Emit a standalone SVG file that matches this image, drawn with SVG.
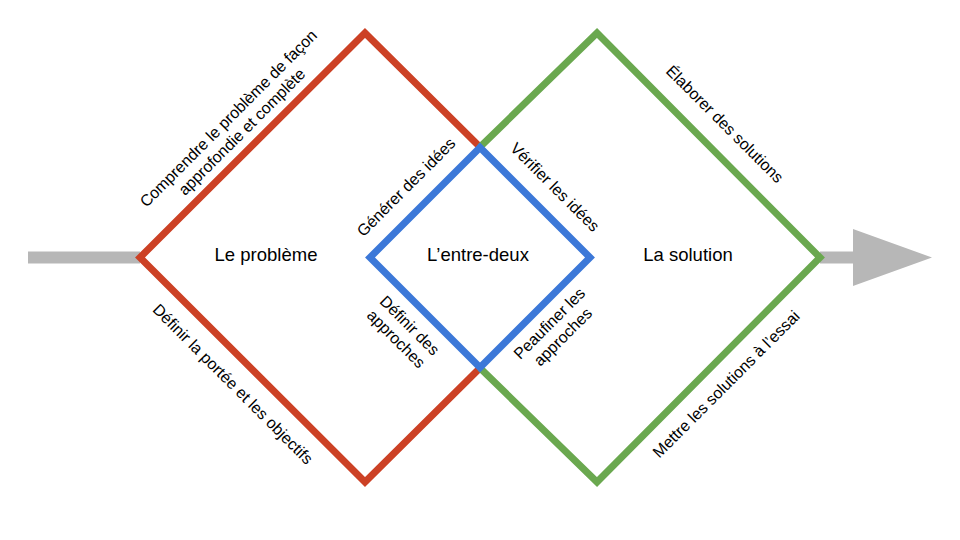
<svg xmlns="http://www.w3.org/2000/svg" width="960" height="540" viewBox="0 0 960 540">
<style>
.t{font-family:"Liberation Sans",Arial,sans-serif;fill:#000}
.lbl{font-size:16px;text-anchor:middle}
.big{font-size:18.5px;text-anchor:middle}
.edge{fill:none;stroke-width:7;stroke-linejoin:miter;stroke-linecap:butt}
</style>
<rect width="960" height="540" fill="#fff"/>
<g id="connectors">
<rect x="28" y="251.5" width="112" height="12" fill="#b7b7b7"/>
<polygon points="820,251.5 853,251.5 853,229 932,257.5 853,286 853,263.5 820,263.5" fill="#b7b7b7"/>
</g>
<g id="problem">
<polyline class="edge" stroke="#cc4125" points="480,147 365,33 140,257.5 365,482 480,368"/>
<text class="t big" x="266" y="261">Le problème</text>
<g transform="translate(235,125) rotate(-45)">
<text class="t lbl" x="0" y="-9.5" dy="0.35em">Comprendre le problème de façon</text>
<text class="t lbl" x="0" y="9.5" dy="0.35em">approfondie et complète</text>
</g>
<text class="t lbl" transform="translate(233,384) rotate(45)" dy="0.35em">Définir la portée et les objectifs</text>
</g>
<g id="solution">
<polyline class="edge" stroke="#6aa84f" points="480,147 597,33 820,257.5 597,482 480,368"/>
<text class="t big" x="688" y="261">La solution</text>
<text class="t lbl" transform="translate(725,124) rotate(45)" dy="0.35em">Élaborer des solutions</text>
<text class="t lbl" transform="translate(726,384) rotate(-45)" dy="0.35em">Mettre les solutions à l’essai</text>
</g>
<g id="between">
<polygon class="edge" stroke="#3c78d8" points="480,147.5 590,257.5 480,367.5 370,257.5"/>
<text class="t big" x="478" y="261">L’entre-deux</text>
<text class="t lbl" transform="translate(406,187) rotate(-45)" dy="0.35em">Générer des idées</text>
<text class="t lbl" transform="translate(555,187) rotate(45)" dy="0.35em">Vérifier les idées</text>
<g transform="translate(403,332) rotate(45)">
<text class="t lbl" x="0" y="-9.5" dy="0.35em">Définir des</text>
<text class="t lbl" x="0" y="9.5" dy="0.35em">approches</text>
</g>
<g transform="translate(556,330) rotate(-45)">
<text class="t lbl" x="0" y="-9.5" dy="0.35em">Peaufiner les</text>
<text class="t lbl" x="0" y="9.5" dy="0.35em">approches</text>
</g>
</g>
</svg>
